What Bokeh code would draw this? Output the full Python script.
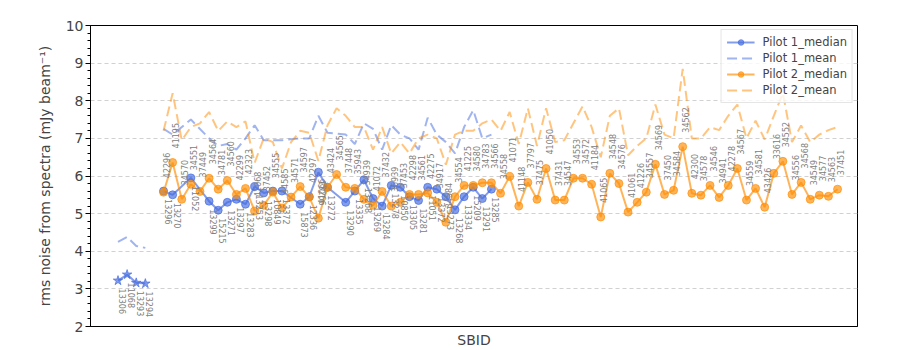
import math
from bokeh.plotting import figure
from bokeh.models import ColumnDataSource, Range1d, FixedTicker, Legend, LegendItem
from bokeh.core.properties import value
from bokeh.embed import file_html
from bokeh.resources import INLINE

# ---------------- data ----------------
# Pilot 1, first group (star markers)
p1s_idx = [0, 1, 2, 3]
p1s_sbid = ["13306", "11068", "13293", "13294"]
p1s_median = [3.22, 3.38, 3.16, 3.14]
p1s_mean = [4.25, 4.38, 4.14, 4.09]

# Pilot 1, main group
p1_idx = [5, 6, 8, 10, 11, 12, 13, 14, 15, 16, 17, 18, 20, 21, 22, 23, 25, 26, 27,
          28, 29, 30, 31, 32, 33, 34, 35, 36, 37, 38, 39, 40, 41]
p1_sbid = ["13296", "13270", "11052", "13299", "15215", "13271", "13297", "13283",
           "13253", "13298", "10849", "13372", "15873", "12336", "13266", "13272",
           "13290", "13335", "13268", "13269", "13284", "13278", "10850", "13305",
           "13281", "11051", "13372", "13273", "13268", "13334", "15209", "13291",
           "13285"]
p1_median = [5.6, 5.5, 5.95, 5.33, 5.09, 5.3, 5.38, 5.25, 5.72, 5.55, 5.6, 5.6,
             5.25, 5.45, 6.1, 5.7, 5.3, 5.6, 5.9, 5.4, 5.2, 5.75, 5.7, 5.45, 5.35,
             5.7, 5.65, 5.45, 5.1, 5.45, 5.7, 5.4, 5.65]
p1_mean = [7.25, 7.1, 7.5, 7.0, 6.8, 6.85, 6.7, 7.0, 7.35, 6.95, 6.95, 6.95, 7.0,
           7.0, 7.6, 7.15, 7.1, 6.85, 7.4, 7.25, 6.7, 7.35, 7.1, 7.0, 6.7, 7.55,
           7.1, 6.9, 6.6, 7.3, 7.75, 7.0, 7.1]

# Pilot 2
p2_idx = list(range(5, 80))
p2_sbid = ["42296", "41195", "34570", "34551", "37449", "34564", "34781", "34560",
           "42299", "42323", "41068", "37452", "34555", "34585", "34571", "34597",
           "42297", "41066", "43424", "34565", "37448", "35943", "34939", "41072",
           "37432", "36939", "37453", "42298", "34561", "42275", "34917", "34584",
           "34554", "41225", "34580", "34783", "34566", "34558", "41071", "41148",
           "37797", "37475", "41050", "37431", "34547", "34553", "34572", "41184",
           "41065", "34548", "34576", "41061", "41226", "34557", "34569", "37450",
           "34584", "34562", "42300", "34578", "34546", "34941", "42278", "34567",
           "34559", "34581", "43426", "33616", "34552", "34556", "34568", "34549",
           "34577", "34563", "37451"]
p2_median = [5.57, 6.36, 5.38, 5.78, 5.59, 5.94, 5.65, 5.88, 5.51, 5.67, 5.07, 5.22,
             5.57, 5.15, 5.44, 5.72, 5.44, 4.88, 5.7, 6.04, 5.7, 5.67, 5.38, 5.22,
             5.59, 5.2, 5.3, 5.51, 5.51, 5.55, 5.3, 4.77, 5.45, 5.75, 5.75, 5.82,
             5.82, 5.54, 5.99, 5.2, 5.83, 5.38, 6.2, 5.36, 5.36, 5.94, 5.94, 5.78,
             4.91, 6.07, 5.8, 5.04, 5.3, 5.57, 6.31, 5.51, 5.62, 6.78, 5.54, 5.49,
             5.75, 5.43, 5.75, 6.2, 5.36, 5.67, 5.17, 6.07, 6.39, 5.51, 5.83, 5.38,
             5.49, 5.46, 5.65]
p2_mean = [7.2, 8.2, 6.95, 7.3, 7.4, 7.7, 7.2, 7.45, 7.3, 7.45, 6.35, 7.0, 6.9, 6.2,
           6.9, 7.2, 7.15, 6.4, 7.35, 7.8, 7.6, 7.3, 7.3, 6.7, 7.3, 6.6, 6.9, 6.6,
           7.0, 7.1, 7.0, 6.3, 7.1, 7.2, 7.2, 7.4, 7.5, 7.2, 7.7, 6.85, 7.8, 6.8,
           7.8, 6.9, 6.95, 7.4, 7.85, 7.3, 6.5, 7.6, 7.8, 6.55, 6.8, 7.0, 7.9, 7.1,
           7.0, 8.85, 7.0, 7.0, 7.3, 7.22, 7.6, 7.9, 7.0, 7.47, 6.97, 7.6, 8.2, 6.9,
           7.34, 6.9, 7.1, 7.22, 7.3]

y_ticks = [2, 3, 4, 5, 6, 7, 8, 9, 10]

# ---------------- styling ----------------
BLUE = "royalblue"
ORANGE = "darkorange"
FONT = "DejaVu Sans"
LABEL_GREY = "#808080"

p = figure(width=900, height=350, output_backend="svg", toolbar_location=None,
           x_range=Range1d(-3.02, 81.19), y_range=Range1d(2, 10),
           min_border_left=90, min_border_right=43, min_border_top=25,
           min_border_bottom=22)
p.background_fill_color = "white"
p.border_fill_color = "white"
p.outline_line_color = "black"
p.outline_line_width = 1
p.outline_line_alpha = 1

p.xgrid.visible = False
p.ygrid.grid_line_color = "#cccccc"
p.ygrid.grid_line_dash = "4 3"
p.ygrid.grid_line_alpha = 0.9
p.ygrid.ticker = FixedTicker(ticks=y_ticks)

p.yaxis.ticker = FixedTicker(ticks=y_ticks,
                             minor_ticks=[2 + 0.2 * k for k in range(41)])
p.yaxis.axis_label = "rms noise from spectra (mJy beam\u207b\u00b9)"
p.yaxis.axis_label_text_font = FONT
p.yaxis.axis_label_text_font_style = "normal"
p.yaxis.axis_label_text_font_size = "14px"
p.yaxis.axis_label_standoff = 10
p.yaxis.major_label_text_font = FONT
p.yaxis.major_label_text_font_size = "14px"
p.yaxis.major_label_standoff = 2
p.yaxis.major_tick_in = 0
p.yaxis.major_tick_out = 5
p.yaxis.minor_tick_in = 0
p.yaxis.minor_tick_out = 3
p.yaxis.axis_line_color = "black"

p.xaxis.ticker = FixedTicker(ticks=[])
p.xaxis.axis_label = "SBID"
p.xaxis.axis_label_text_font = FONT
p.xaxis.axis_label_text_font_style = "normal"
p.xaxis.axis_label_text_font_size = "14px"
p.xaxis.axis_label_standoff = 5
p.xaxis.major_label_standoff = 0
p.xaxis.major_tick_out = 0
p.xaxis.major_tick_in = 0
p.xaxis.minor_tick_out = 0
p.xaxis.axis_line_color = "black"

src_p1s = ColumnDataSource(dict(x=p1s_idx, med=p1s_median, mean=p1s_mean, sbid=p1s_sbid))
src_p1 = ColumnDataSource(dict(x=p1_idx, med=p1_median, mean=p1_mean, sbid=p1_sbid))
src_p2 = ColumnDataSource(dict(x=p2_idx, med=p2_median, mean=p2_mean, sbid=p2_sbid))

MED_ALPHA = 0.65
MEAN_ALPHA = 0.5

# Pilot 1
p.line("x", "med", source=src_p1s, color=BLUE, line_width=2, alpha=MED_ALPHA)
p.scatter("x", "med", source=src_p1s, marker="star", size=10, color=BLUE,
          alpha=MED_ALPHA)
p.line("x", "mean", source=src_p1s, color=BLUE, line_width=2, alpha=MEAN_ALPHA,
       line_dash="10 5")
p1_line = p.line("x", "med", source=src_p1, color=BLUE, line_width=2, alpha=MED_ALPHA)
p1_pts = p.scatter("x", "med", source=src_p1, marker="circle", size=8, color=BLUE,
                   alpha=MED_ALPHA)
p1_mean_line = p.line("x", "mean", source=src_p1, color=BLUE, line_width=2,
                      alpha=MEAN_ALPHA, line_dash="10 5")

# Pilot 2
p2_line = p.line("x", "med", source=src_p2, color=ORANGE, line_width=2, alpha=MED_ALPHA)
p2_pts = p.scatter("x", "med", source=src_p2, marker="circle", size=8, color=ORANGE,
                   alpha=MED_ALPHA)
p2_mean_line = p.line("x", "mean", source=src_p2, color=ORANGE, line_width=2,
                      alpha=MEAN_ALPHA, line_dash="10 5")

# SBID labels
for src in (src_p1s, src_p1):
    p.text("x", "med", text="sbid", source=src, angle=-math.pi / 2,
           text_align="left", text_baseline="middle", x_offset=4.5, y_offset=8,
           text_font=value(FONT), text_font_size="8px", text_color=LABEL_GREY)
p.text("x", "med", text="sbid", source=src_p2, angle=math.pi / 2,
       text_align="left", text_baseline="middle", x_offset=3, y_offset=-14,
       text_font=value(FONT), text_font_size="8px", text_color=LABEL_GREY)

legend = Legend(items=[
    LegendItem(label="Pilot 1_median", renderers=[p1_line, p1_pts]),
    LegendItem(label="Pilot 1_mean", renderers=[p1_mean_line]),
    LegendItem(label="Pilot 2_median", renderers=[p2_line, p2_pts]),
    LegendItem(label="Pilot 2_mean", renderers=[p2_mean_line]),
], location="top_right")
legend.label_text_font = FONT
legend.label_text_font_size = "11.5px"
legend.glyph_width = 28
legend.glyph_height = 14
legend.spacing = 2
legend.padding = 5
legend.label_standoff = 8
legend.margin = 4
legend.border_line_color = "#cccccc"
legend.background_fill_alpha = 0.8
p.add_layout(legend)

open("out.html", "w").write(file_html(p, INLINE))
